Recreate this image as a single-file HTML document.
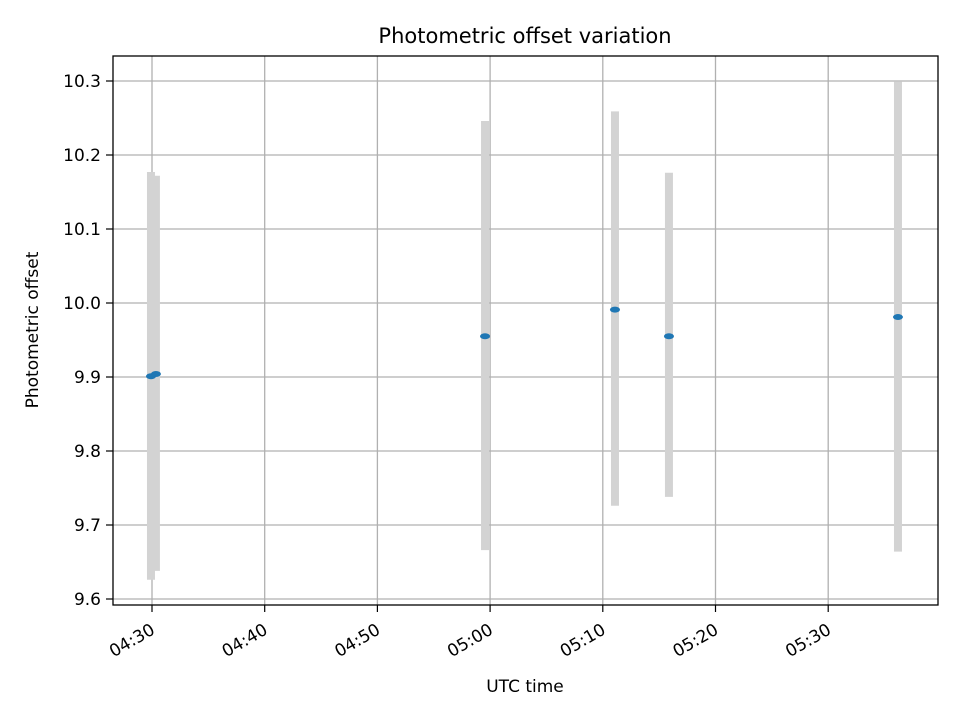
<!DOCTYPE html>
<html><head><meta charset="utf-8"><style>
body{margin:0;background:#fff;}
svg{font-family:"DejaVu Sans","Liberation Sans",sans-serif;}
</style></head><body>
<svg id="chart" width="960" height="720" xmlns="http://www.w3.org/2000/svg">
<rect width="960" height="720" fill="#fff"/>
<text x="525" y="43" text-anchor="middle" font-size="21">Photometric offset variation</text>
<g id="grid"></g>
<g id="bars"></g>
<g id="pts"></g>
<rect x="113" y="56" width="825" height="549" fill="none" stroke="#000" stroke-width="1.3"/>
<g id="axes"></g>
<text x="525" y="692" text-anchor="middle" font-size="17">UTC time</text>
<text transform="translate(38,330) rotate(-90)" text-anchor="middle" font-size="17">Photometric offset</text>
</svg>
<script>
// minutes after 04:30 UTC
const times=[-0.09,0.35,29.55,41.08,45.87,66.19];
const offsets=[9.901,9.904,9.955,9.991,9.955,9.981];
const lower=[9.626,9.638,9.666,9.726,9.738,9.664];
const upper=[10.177,10.172,10.246,10.259,10.176,10.299];
const yTicks=[9.6,9.7,9.8,9.9,10.0,10.1,10.2,10.3];
const xTickMin=[0,10,20,30,40,50,60];
const xTickLabels=["04:30","04:40","04:50","05:00","05:10","05:20","05:30"];
const NS="http://www.w3.org/2000/svg";
const xs=m=>152+m*11.27;
const ys=v=>599-(v-9.6)*740;
function mk(tag,attrs,parent){const e=document.createElementNS(NS,tag);for(const k in attrs)e.setAttribute(k,attrs[k]);document.getElementById(parent).appendChild(e);return e;}
yTicks.forEach((v,i)=>{
 const y=ys(v);
 const g=mk('line',{x1:113,x2:938,y1:y,y2:y,stroke:'#b0b0b0','stroke-width':1.3},'grid');
 
 
 mk('line',{x1:106,x2:113,y1:y,y2:y,stroke:'#000','stroke-width':1.2},'axes');
 const t=mk('text',{x:101,y:y+6,'text-anchor':'end','font-size':17},'axes');
 t.textContent=v.toFixed(1);
 
 
});
xTickMin.forEach((m,i)=>{
 const x=xs(m);
 const g=mk('line',{x1:x,x2:x,y1:56,y2:605,stroke:'#b0b0b0','stroke-width':1.3},'grid');
 
 
 mk('line',{x1:x,x2:x,y1:605,y2:612,stroke:'#000','stroke-width':1.2},'axes');
 const t=mk('text',{x:x+4,y:633,'text-anchor':'end','font-size':17,transform:`rotate(-30 ${x+4} 633)`},'axes');
 t.textContent=xTickLabels[i];
 
 
});
times.forEach((m,i)=>{
 const x=xs(m);
 const b=mk('line',{x1:x,x2:x,y1:ys(upper[i]),y2:ys(lower[i]),stroke:'#d3d3d3','stroke-width':8},'bars');
 
 
 const p=mk('ellipse',{cx:x,cy:ys(offsets[i]),rx:5,ry:3,fill:'#1f77b4'},'pts');
 
 
});
</script>
</body></html>
